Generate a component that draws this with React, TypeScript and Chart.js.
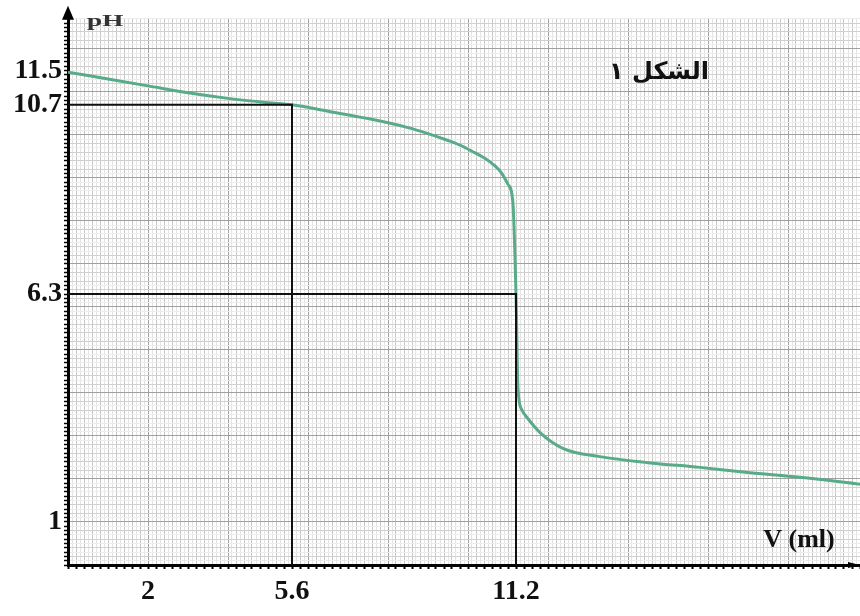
import React, { useEffect, useRef } from "react";
import { Chart, registerables } from "chart.js";

Chart.register(...registerables);

// Titration curve: volume added (ml) vs pH
const volumes = [0, 1, 2, 3, 4, 5, 5.6, 6.5, 7.5, 8.5, 9.0, 9.5, 9.8, 10.1, 10.4, 10.65, 10.85, 11.0, 11.12, 11.2, 11.25, 11.35, 11.5, 11.8, 12.4, 13.3, 14.5, 15.8, 17, 18.3, 19.8];
const phValues = [11.46, 11.3, 11.14, 10.98, 10.85, 10.75, 10.7, 10.55, 10.38, 10.17, 10.03, 9.87, 9.76, 9.62, 9.47, 9.3, 9.1, 8.85, 8.45, 6.3, 4.1, 3.6, 3.4, 3.08, 2.7, 2.52, 2.38, 2.27, 2.15, 2.04, 1.88];

// Guide lines
const halfEqV = 5.6;
const halfEqPh = 10.7;
const eqV = 11.2;
const eqPh = 6.3;

// Labelled ticks
const yTickLabels = [1, 6.3, 10.7, 11.5];
const xTickLabels = [2, 5.6, 11.2];

// Axis ranges
const xMin = 0;
const xMax = 19.8;
const yMin = 0;
const yMax = 12.7;

const titleText = "الشكل ١";
const xAxisName = "V (ml)";
const yAxisName = "pH";

const X_TICK_PAD = 6;

const near = (a: number, b: number) => Math.abs(a - b) < 1e-6;

export default function App() {
  const ref = useRef<HTMLCanvasElement | null>(null);

  useEffect(() => {
    if (!ref.current) return;

    const decor = {
      id: "decor",
      afterDraw(chart: any) {
        const { ctx, chartArea: a } = chart;
        ctx.save();
        ctx.fillStyle = "#000";
        ctx.strokeStyle = "#000";
        // y axis extension and arrow
        ctx.lineWidth = 3;
        ctx.beginPath();
        ctx.moveTo(a.left, a.top);
        ctx.lineTo(a.left, a.top - 6);
        ctx.stroke();
        ctx.beginPath();
        ctx.moveTo(a.left, a.top - 13);
        ctx.lineTo(a.left - 6, a.top + 1);
        ctx.lineTo(a.left + 6, a.top + 1);
        ctx.closePath();
        ctx.fill();
        // x axis arrow
        ctx.beginPath();
        ctx.moveTo(a.right, a.bottom);
        ctx.lineTo(a.right - 12, a.bottom - 3);
        ctx.lineTo(a.right - 12, a.bottom + 3);
        ctx.closePath();
        ctx.fill();

        // y axis name (wide lettering)
        ctx.fillStyle = "#333";
        ctx.font = "bold 17px 'Liberation Serif'";
        ctx.textAlign = "left";
        ctx.textBaseline = "middle";
        ctx.save();
        ctx.translate(a.left + 19, a.top + 3);
        ctx.scale(1.6, 1);
        ctx.fillText(yAxisName, 0, 0);
        ctx.restore();

        ctx.fillStyle = "#111";
        ctx.font = "bold 26px 'Liberation Serif'";
        ctx.textAlign = "center";
        ctx.fillText(xAxisName, a.right - 61, a.bottom - 25);

        // title
        ctx.font = "bold 24px 'DejaVu Sans'";
        ctx.direction = "rtl";
        ctx.textAlign = "center";
        ctx.fillText(titleText, 659, 73);
        ctx.restore();
      },
    };

    const yTicks: number[] = [];
    for (let i = Math.round(yMin * 10); i <= Math.round(yMax * 10); i++) yTicks.push(i);
    const xTicks: number[] = [];
    for (let i = Math.round(xMin * 10); i <= Math.round(xMax * 10); i++) xTicks.push(i);

    const chart = new Chart(ref.current, {
      type: "scatter",
      data: {
        datasets: [
          {
            label: "guide1",
            data: [
              { x: xMin, y: halfEqPh },
              { x: halfEqV, y: halfEqPh },
              { x: halfEqV, y: yMin },
            ],
            showLine: true,
            borderColor: "#111",
            borderWidth: 2,
            pointRadius: 0,
            tension: 0,
          },
          {
            label: "guide2",
            data: [
              { x: xMin, y: eqPh },
              { x: eqV, y: eqPh },
              { x: eqV, y: yMin },
            ],
            showLine: true,
            borderColor: "#111",
            borderWidth: 2,
            pointRadius: 0,
            tension: 0,
          },
          {
            label: "pH",
            data: volumes.map((v, i) => ({ x: v, y: phValues[i] })),
            showLine: true,
            borderColor: "#58ab89",
            borderWidth: 3,
            pointRadius: 0,
            cubicInterpolationMode: "monotone",
          },
        ],
      },
      options: {
        animation: false,
        responsive: false,
        devicePixelRatio: 1,
        layout: { padding: { top: 0, right: 0, left: 0, bottom: 0 } },
        plugins: {
          legend: { display: false },
          tooltip: { enabled: false },
        },
        scales: {
          x: {
            type: "linear",
            min: xMin,
            max: xMax,
            afterBuildTicks: (scale: any) => {
              scale.ticks = xTicks.map((i) => ({ value: i / 10 }));
            },
            afterFit: (scale: any) => {
              scale.height = 51;
            },
            border: { display: true, color: "#000", width: 3 },
            grid: {
              color: (c: any) => {
                const i = Math.round(c.tick.value * 10);
                if (i % 20 === 0) return "#a0a0a0";
                if (i % 2 === 0) return "#c6c6c6";
                return "#e4e4e4";
              },
              lineWidth: 1,
              tickLength: 4,
              tickColor: (c: any) => {
                const i = Math.round(c.tick.value * 10);
                return i % 2 === 0 ? "#000" : "rgba(0,0,0,0)";
              },
              tickWidth: 2,
            },
            ticks: {
              autoSkip: false,
              maxRotation: 0,
              padding: X_TICK_PAD,
              color: "#111",
              font: { family: "'Liberation Serif'", size: 28, weight: "bold" },
              callback: (v: any) => {
                const f = xTickLabels.find((t) => near(t, Number(v)));
                return f === undefined ? "" : String(f);
              },
            },
          },
          y: {
            type: "linear",
            min: yMin,
            max: yMax,
            afterBuildTicks: (scale: any) => {
              scale.ticks = yTicks.map((i) => ({ value: i / 10 }));
            },
            afterFit: (scale: any) => {
              scale.width = 68;
            },
            border: { display: true, color: "#000", width: 3 },
            grid: {
              color: (c: any) => {
                const i = Math.round(c.tick.value * 10);
                if (i % 10 === 0) return "#a0a0a0";
                if (i % 2 === 0) return "#d0d0d0";
                return "#ececec";
              },
              lineWidth: 1,
              tickLength: 4,
              tickColor: "#000",
              tickWidth: 1.5,
            },
            ticks: {
              autoSkip: false,
              padding: 2,
              color: "#111",
              font: { family: "'Liberation Serif'", size: 28, weight: "bold" },
              callback: (v: any) => {
                const f = yTickLabels.find((t) => near(t, Number(v)));
                return f === undefined ? "" : String(f);
              },
            },
          },
        },
      },
      plugins: [decor],
    } as any);

    return () => chart.destroy();
  }, []);

  const w = 860 + X_TICK_PAD;
  return (
    <div style={{ position: "absolute", left: 0, top: 0, width: 860, height: 616, overflow: "hidden", background: "#fff" }}>
      <canvas ref={ref} width={w} height={616} style={{ width: w, height: 616, display: "block" }} />
    </div>
  );
}
